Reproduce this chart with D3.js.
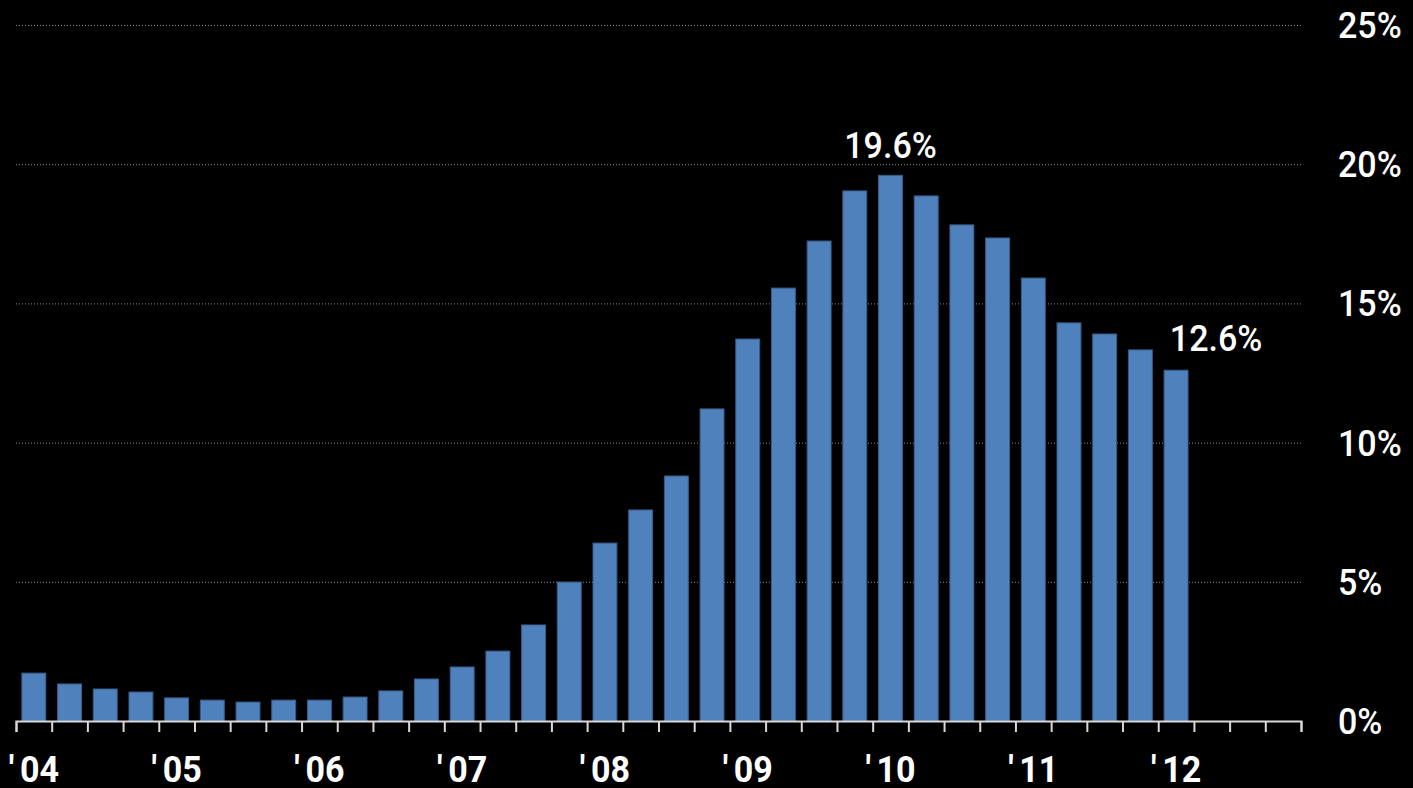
<!DOCTYPE html>
<html><head><meta charset="utf-8">
<script src="https://cdn.jsdelivr.net/npm/d3@7"></script>
<style>
html,body{margin:0;padding:0;background:#000;}
svg{display:block;}
text{font-family:Roboto,"Liberation Sans",sans-serif;fill:#fff;font-weight:500;}
</style></head>
<body>
<svg id="chart" width="1413" height="788"></svg>
<script>
const years = ["'04","'05","'06","'07","'08","'09","'10","'11","'12"];
const quarters = ["Q1","Q2","Q3","Q4"];
const categories = [];
years.forEach(yr => quarters.forEach(q => categories.push(yr + " " + q)));
const values = [1.72,1.33,1.15,1.04,0.83,0.75,0.68,0.75,0.75,0.86,1.08,1.51,
  1.94,2.51,3.45,4.99,6.39,7.58,8.80,11.21,13.72,15.55,17.24,19.04,
  19.6,18.86,17.82,17.35,15.91,14.30,13.90,13.33,12.6];
const yTicks = [0,5,10,15,20,25];
const annotations = [{index:24,label:"19.6%",pos:"top"},{index:32,label:"12.6%",pos:"right"}];

const svg = d3.select("#chart");
const mLeft = 16, mRight = 1301, mTop = 25, mBottom = 721;
const FS = 36, SX = 0.945;

const y = d3.scaleLinear().domain([0,25]).range([mBottom, mTop]);
const x = d3.scaleBand().domain(categories).range([mLeft, mRight]).paddingInner(0.33).paddingOuter(0.165);
const slot = d3.scaleLinear().domain([0, categories.length]).range([mLeft, mRight]);

function place(sel, fx, fy) {
  return sel.attr("transform", (d, i) => `translate(${fx(d, i)},${fy(d, i)}) scale(${SX},1)`)
    .attr("font-size", FS);
}

// gridlines
svg.append("g").selectAll("line").data(yTicks.filter(d => d > 0)).join("line")
  .attr("x1", mLeft).attr("x2", mRight)
  .attr("y1", d => y(d) + 0.5).attr("y2", d => y(d) + 0.5)
  .attr("stroke", "#8c8c8c").attr("stroke-width", 1).attr("stroke-dasharray", "1,2");

// y labels
place(svg.append("g").selectAll("text").data(yTicks).join("text")
  .attr("dy", "0.36em").text(d => d + "%"), () => 1338, d => y(d));

// bars
const data = values.map((v, i) => ({cat: categories[i], v}));
svg.append("g").selectAll("rect").data(data).join("rect")
  .attr("x", d => x(d.cat)).attr("width", x.bandwidth())
  .attr("y", d => y(d.v)).attr("height", d => y(0) - y(d.v))
  .attr("fill", "#4f81bd").attr("stroke", "#385d8a").attr("stroke-width", 1);

// x axis: ticks at slot boundaries
const axis = d3.axisBottom(slot).tickValues(d3.range(0, categories.length + 1)).tickFormat("").tickSize(11).tickSizeOuter(11);
const ax = svg.append("g").attr("transform", `translate(0,${mBottom})`).call(axis);
ax.selectAll("path,line").attr("stroke", "#d9d9d9").attr("stroke-width", 2);

// x labels (Q1 of each year)
const xl = svg.append("g").selectAll("text").data(years).join("text")
  .attr("text-anchor", "middle").style("font-weight", 700);
xl.append("tspan").text(d => d.charAt(0));
xl.append("tspan").attr("dx", 6).text(d => d.slice(1));
place(xl, d => x(d + " Q1") + x.bandwidth()/2, () => 782);

// annotations
annotations.forEach(a => {
  const c = categories[a.index];
  const cx = x(c) + x.bandwidth()/2;
  const t = svg.append("text").datum(a).attr("text-anchor", "middle").text(a.label);
  if (a.pos === "top") {
    place(t, () => cx, () => y(values[a.index]) - 17.5);
  } else {
    place(t, () => cx + 40, () => y(values[a.index]) - 19);
  }
});
</script>
</body></html>
